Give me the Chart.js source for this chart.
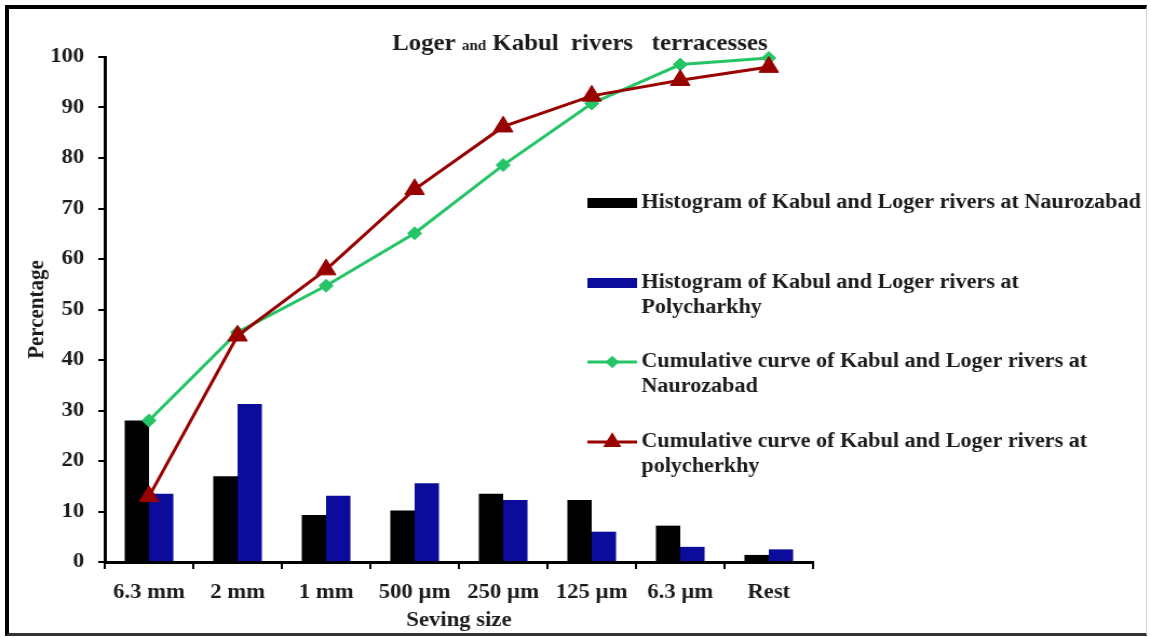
<!DOCTYPE html>
<html><head><meta charset="utf-8">
<script src="https://cdn.jsdelivr.net/npm/chart.js@4.4.1/dist/chart.umd.min.js"></script>
<style>
html,body{margin:0;padding:0;background:#fff;overflow:hidden;}
#wrap{position:relative;width:1151px;height:637px;background:#fff;}
#c{position:absolute;left:0;top:0;}
#frame{position:absolute;left:5px;top:5px;width:1142px;height:631px;box-sizing:border-box;border-left:4px solid #000;border-top:4px solid #000;border-bottom:3px solid #333;border-right:1px solid #d0d0d0;pointer-events:none;}
</style></head>
<body><div id="wrap"><canvas id="c" width="1066" height="637" style="width:1151px;height:637px;"></canvas><div id="frame"></div></div>
<script>
// ---- data ----
const categories = ['6.3 mm', '2 mm', '1 mm', '500 µm', '250 µm', '125 µm', '6.3 µm', 'Rest'];
const histNaurozabad = [28.0, 17.0, 9.3, 10.2, 13.5, 12.3, 7.2, 1.4];
const histPolycharkhy = [13.5, 31.3, 13.1, 15.6, 12.3, 6.0, 3.0, 2.5];
const cumNaurozabad = [28.0, 45.5, 54.7, 65.1, 78.6, 90.8, 98.5, 99.8];
const cumPolycharkhy = [13.0, 44.8, 57.9, 73.8, 86.2, 92.3, 95.4, 98.0];
const yTicks = [0, 10, 20, 30, 40, 50, 60, 70, 80, 90, 100];
const seriesNames = [
  'Histogram of Kabul and Loger rivers at Naurozabad',
  'Histogram of Kabul and Loger rivers at Polycharkhy',
  'Cumulative curve of Kabul and Loger rivers at Naurozabad',
  'Cumulative curve of Kabul and Loger rivers at polycherkhy'
];
const legendLines = [
  ['Histogram of Kabul and Loger rivers at Naurozabad'],
  ['Histogram of Kabul and Loger rivers at', 'Polycharkhy'],
  ['Cumulative curve of Kabul and Loger rivers at', 'Naurozabad'],
  ['Cumulative curve of Kabul and Loger rivers at', 'polycherkhy']
];
const titleParts = [
  { text: 'Loger ', small: false },
  { text: 'and', small: true },
  { text: ' Kabul  rivers   terracesses', small: false }
];
const xTitle = 'Seving size';
const yTitle = 'Percentage';

// ---- style ----
const FONT = '"Liberation Serif", "Times New Roman", serif';
const TXT = '#1c1c1c';
const GREEN = '#25c466';
const RED = '#990000';
const BLUE = '#0b0b9c';

const decorPlugin = {
  id: 'decor',
  afterDraw(chart, args, opts) {
    const ctx = chart.ctx;
    ctx.save();
    // title
    ctx.fillStyle = TXT;
    ctx.textBaseline = 'alphabetic';
    ctx.textAlign = 'left';
    let total = 0;
    const widths = titleParts.map(p => {
      ctx.font = 'bold ' + (p.small ? opts.titleSmall : opts.titleSize) + 'px ' + FONT;
      const w = ctx.measureText(p.text).width; total += w; return w;
    });
    let x = opts.titleCenterX - total / 2;
    titleParts.forEach((p, i) => {
      ctx.font = 'bold ' + (p.small ? opts.titleSmall : opts.titleSize) + 'px ' + FONT;
      ctx.fillText(p.text, x, opts.titleBaseline);
      x += widths[i];
    });
    // legend
    const ds = chart.data.datasets;
    ctx.font = 'bold ' + opts.legendSize + 'px ' + FONT;
    ctx.textBaseline = 'middle';
    opts.legendRows.forEach((rowY, i) => {
      const d = ds[i];
      const sx = opts.swatchX, sw = opts.swatchW;
      if (d.type === 'line') {
        ctx.strokeStyle = d.borderColor;
        ctx.lineWidth = d.borderWidth;
        ctx.beginPath(); ctx.moveTo(sx, rowY); ctx.lineTo(sx + sw, rowY); ctx.stroke();
        ctx.fillStyle = d.pointBackgroundColor;
        Chart.helpers.drawPoint(ctx, {
          pointStyle: d.pointStyle, radius: d.pointRadius * 0.65, rotation: 0, borderWidth: 1
        }, sx + sw / 2, rowY);
      } else {
        ctx.fillStyle = d.backgroundColor;
        ctx.fillRect(sx, rowY - opts.swatchH / 2, sw, opts.swatchH);
      }
      ctx.fillStyle = TXT;
      legendLines[i].forEach((line, j) => {
        ctx.fillText(line, opts.textX, rowY + j * opts.lineGap);
      });
    });
    ctx.restore();
  }
};

new Chart(document.getElementById('c'), {
  type: 'bar',
  data: {
    labels: categories,
    datasets: [
      { type: 'bar', label: seriesNames[0], data: histNaurozabad, backgroundColor: '#000000', order: 2,
        categoryPercentage: 0.55, barPercentage: 1.0, borderWidth: 0 },
      { type: 'bar', label: seriesNames[1], data: histPolycharkhy, backgroundColor: BLUE, order: 2,
        categoryPercentage: 0.55, barPercentage: 1.0, borderWidth: 0 },
      { type: 'line', label: seriesNames[2], data: cumNaurozabad, borderColor: GREEN, borderWidth: 3,
        pointStyle: 'rectRot', pointRadius: 6.5, pointBackgroundColor: GREEN, pointBorderColor: GREEN,
        pointBorderWidth: 1, tension: 0, order: 1, clip: false },
      { type: 'line', label: seriesNames[3], data: cumPolycharkhy, borderColor: RED, borderWidth: 3,
        pointStyle: 'triangle', pointRadius: 10.5, pointBackgroundColor: RED, pointBorderColor: RED,
        pointBorderWidth: 1, tension: 0, order: 0, clip: false }
    ]
  },
  options: {
    responsive: false,
    animation: false,
    events: [],
    layout: { padding: { left: 0, right: 313, top: 57, bottom: 0 } },
    plugins: {
      legend: { display: false },
      tooltip: { enabled: false },
      title: { display: false },
      decor: {
        titleSize: 23, titleSmall: 14, titleCenterX: 537, titleBaseline: 50,
        legendSize: 20.5, legendRows: [203, 283, 362, 442], lineGap: 25,
        swatchX: 544, swatchW: 46, swatchH: 10, textX: 594
      }
    },
    scales: {
      x: {
        offset: true,
        grid: { display: true, drawOnChartArea: false, offset: true, tickLength: 7, color: '#000', lineWidth: 2 },
        border: { display: true, color: '#000', width: 3 },
        ticks: { color: TXT, padding: 11, font: { family: FONT, size: 21, weight: 'bold' }, maxRotation: 0, autoSkip: false },
        title: { display: true, text: xTitle, color: TXT, font: { family: FONT, size: 21, weight: 'bold' }, padding: { top: 0, bottom: 4 } },
        afterFit(s) { s.height = 75; }
      },
      y: {
        min: 0, max: 100,
        afterBuildTicks(s) { s.ticks = yTicks.map(v => ({ value: v })); },
        grid: { display: true, drawOnChartArea: false, tickLength: 6, color: '#000', lineWidth: 2 },
        border: { display: true, color: '#000', width: 3 },
        ticks: { color: TXT, padding: 13, font: { family: FONT, size: 21, weight: 'bold' } },
        title: { display: true, text: yTitle, color: TXT, font: { family: FONT, size: 21, weight: 'bold' }, padding: { top: 22, bottom: 0 } },
        afterFit(s) { s.width = 97; }
      }
    }
  },
  plugins: [decorPlugin]
});
</script>
</body></html>
